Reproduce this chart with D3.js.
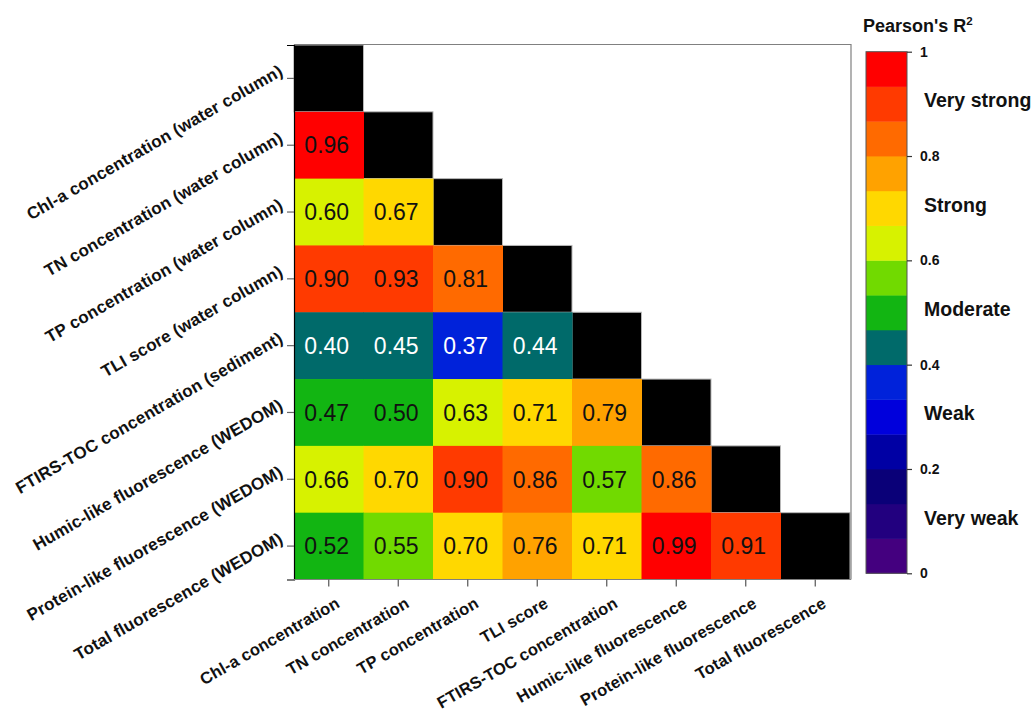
<!DOCTYPE html>
<html>
<head>
<meta charset="utf-8">
<script src="https://cdn.jsdelivr.net/npm/d3@7"></script>
<style>
  html, body { margin: 0; padding: 0; background: #fff; }
  svg { display: block; font-family: "Liberation Sans", Arial, sans-serif; }
</style>
</head>
<body>
<svg id="chart" width="1035" height="711"></svg>
<script>
// Variables in the correlation matrix (rows top to bottom, columns left to right)
const rowLabels = [
  "Chl-a concentration (water column)",
  "TN concentration (water column)",
  "TP concentration (water column)",
  "TLI score (water column)",
  "FTIRS-TOC concentration (sediment)",
  "Humic-like fluorescence (WEDOM)",
  "Protein-like fluorescence (WEDOM)",
  "Total fluorescence (WEDOM)"
];
const colLabels = [
  "Chl-a concentration",
  "TN concentration",
  "TP concentration",
  "TLI score",
  "FTIRS-TOC concentration",
  "Humic-like fluorescence",
  "Protein-like fluorescence",
  "Total fluorescence"
];

// Pearson's R² below the diagonal, one list per row
const r2Chla    = [];
const r2TN      = [0.96];
const r2TP      = [0.60, 0.67];
const r2TLI     = [0.90, 0.93, 0.81];
const r2TOC     = [0.40, 0.45, 0.37, 0.44];
const r2Humic   = [0.47, 0.50, 0.63, 0.71, 0.79];
const r2Protein = [0.66, 0.70, 0.90, 0.86, 0.57, 0.86];
const r2Total   = [0.52, 0.55, 0.70, 0.76, 0.71, 0.99, 0.91];
const r2Rows = [r2Chla, r2TN, r2TP, r2TLI, r2TOC, r2Humic, r2Protein, r2Total];

// 15 colour levels from 0 to 1
const levelColors = [
  "#44007f", "#22007f", "#0a0078", "#0000a4", "#0000dc",
  "#0022da", "#006a6a", "#12b512", "#71da00", "#d7f200",
  "#ffd800", "#ffa200", "#ff6a00", "#ff3a00", "#ff0000"
];

// Colour-bar ticks and strength classes
const cbarTicks = [0, 0.2, 0.4, 0.6, 0.8, 1];
const cbarTickLabels = ["0", "0.2", "0.4", "0.6", "0.8", "1"];
const strengthLabels = ["Very weak", "Weak", "Moderate", "Strong", "Very strong"];
const strengthCenters = [0.1, 0.3, 0.5, 0.7, 0.9];

const svg = d3.select("#chart");

const plot = { left: 294, right: 850, top: 45, bottom: 579.5 };

const x = d3.scaleBand().domain(d3.range(colLabels.length)).range([plot.left, plot.right]);
const y = d3.scaleBand().domain(d3.range(rowLabels.length)).range([plot.top, plot.bottom]);

const thresholds = d3.range(1, levelColors.length).map(i => i / levelColors.length);
const color = d3.scaleThreshold().domain(thresholds).range(levelColors);

// Cell records
const cells = [];
r2Rows.forEach((row, i) => {
  row.forEach((v, j) => cells.push({ row: i, col: j, value: v }));
});
const diag = d3.range(rowLabels.length).map(i => ({ row: i, col: i }));

// Diagonal cells (black, with a faint outline on the white side)
svg.append("g").selectAll("rect")
  .data(diag)
  .join("rect")
  .attr("x", d => x(d.col))
  .attr("y", d => y(d.row))
  .attr("width", x.bandwidth())
  .attr("height", y.bandwidth())
  .attr("fill", "#000")
  .attr("stroke", "#b8b8b8")
  .attr("stroke-width", 1);

// Coloured R² cells
const cellG = svg.append("g");
cellG.selectAll("rect")
  .data(cells)
  .join("rect")
  .attr("x", d => x(d.col))
  .attr("y", d => y(d.row))
  .attr("width", x.bandwidth() + 0.5)
  .attr("height", y.bandwidth() + 0.5)
  .attr("fill", d => color(d.value));

cellG.selectAll("text")
  .data(cells)
  .join("text")
  .attr("x", d => x(d.col) + x.bandwidth() / 2 - 2)
  .attr("y", d => y(d.row) + y.bandwidth() / 2)
  .attr("dy", "0.36em")
  .attr("text-anchor", "middle")
  .attr("font-size", 23)
  .attr("fill", d => d3.lab(color(d.value)).l < 50 ? "#fff" : "#111")
  .text(d => d3.format(".2f")(d.value));

// Frame: top and right borders
svg.append("path")
  .attr("d", `M${plot.left},${plot.top - 0.5}H${plot.right + 1}V${plot.bottom}`)
  .attr("fill", "none")
  .attr("stroke", "#808080")
  .attr("stroke-width", 1.2);

// Left axis
const yAxis = d3.axisLeft(y).tickSize(7).tickFormat("");
const yg = svg.append("g").attr("transform", `translate(${plot.left},0)`).call(yAxis);
yg.select(".domain").attr("stroke", "#000").attr("stroke-width", 1.2);
yg.selectAll(".tick line").attr("stroke", "#666").attr("stroke-width", 1.2);

// Bottom axis
const xAxis = d3.axisBottom(x).tickSize(7).tickFormat("");
const xg = svg.append("g").attr("transform", `translate(0,${plot.bottom})`).call(xAxis);
xg.select(".domain").attr("stroke", "#808080").attr("stroke-width", 1.2)
  .attr("d", `M${plot.left},0H${plot.right + 1}`);
xg.selectAll(".tick line").attr("stroke", "#555").attr("stroke-width", 1.2);

// Rotated row labels
svg.append("g").selectAll("text")
  .data(rowLabels)
  .join("text")
  .attr("transform", (d, i) => `translate(284,${y(i) + y.bandwidth() / 2 - 4}) rotate(-30)`)
  .attr("text-anchor", "end")
  .attr("font-size", 17)
  .attr("letter-spacing", 0.2)
  .attr("font-weight", "bold")
  .attr("fill", "#111")
  .text(d => d);

// Rotated column labels
svg.append("g").selectAll("text")
  .data(colLabels)
  .join("text")
  .attr("transform", (d, i) => `translate(${x(i) + x.bandwidth() / 2 + 12},${plot.bottom + 27}) rotate(-30)`)
  .attr("text-anchor", "end")
  .attr("font-size", 16.5)
  .attr("letter-spacing", 0.15)
  .attr("font-weight", "bold")
  .attr("fill", "#111")
  .text(d => d);

// Colour bar
const cbar = { left: 866, width: 41, top: 51.7, bottom: 573.3 };
const cy = d3.scaleLinear().domain([0, 1]).range([cbar.bottom, cbar.top]);
const levels = levelColors.map((c, i) => ({ lo: i / levelColors.length, hi: (i + 1) / levelColors.length, c }));

svg.append("g").selectAll("rect")
  .data(levels)
  .join("rect")
  .attr("x", cbar.left)
  .attr("y", d => cy(d.hi))
  .attr("width", cbar.width)
  .attr("height", d => cy(d.lo) - cy(d.hi) + 0.4)
  .attr("fill", d => d.c);

svg.append("rect")
  .attr("x", cbar.left)
  .attr("y", cbar.top)
  .attr("width", cbar.width)
  .attr("height", cbar.bottom - cbar.top)
  .attr("fill", "none")
  .attr("stroke", "#555")
  .attr("stroke-width", 1);

const cAxis = d3.axisRight(cy).tickValues(cbarTicks).tickSize(5).tickPadding(8)
  .tickFormat((d, i) => cbarTickLabels[i]);
const cg = svg.append("g").attr("transform", `translate(${cbar.left + cbar.width},0)`).call(cAxis);
cg.attr("font-size", 14).attr("font-family", "Liberation Sans, Arial, sans-serif");
cg.select(".domain").remove();
cg.selectAll(".tick line").attr("stroke", "#333").attr("stroke-width", 1.2);
cg.selectAll(".tick text")
  .attr("font-size", 14)
  .attr("font-weight", "bold")
  .attr("fill", "#111");

// Strength class labels
svg.append("g").selectAll("text")
  .data(strengthLabels)
  .join("text")
  .attr("x", 924)
  .attr("y", (d, i) => cy(strengthCenters[i]) - 3.5)
  .attr("dy", "0.36em")
  .attr("font-size", 19.5)
  .attr("font-weight", "bold")
  .attr("fill", "#111")
  .text(d => d);

// Colour bar title
const title = svg.append("text")
  .attr("x", 863)
  .attr("y", 32)
  .attr("font-size", 18)
  .attr("font-weight", "bold")
  .attr("fill", "#111");
title.append("tspan").text("Pearson's R");
title.append("tspan").attr("dy", -7).attr("font-size", 11.5).text("2");
</script>
</body>
</html>
